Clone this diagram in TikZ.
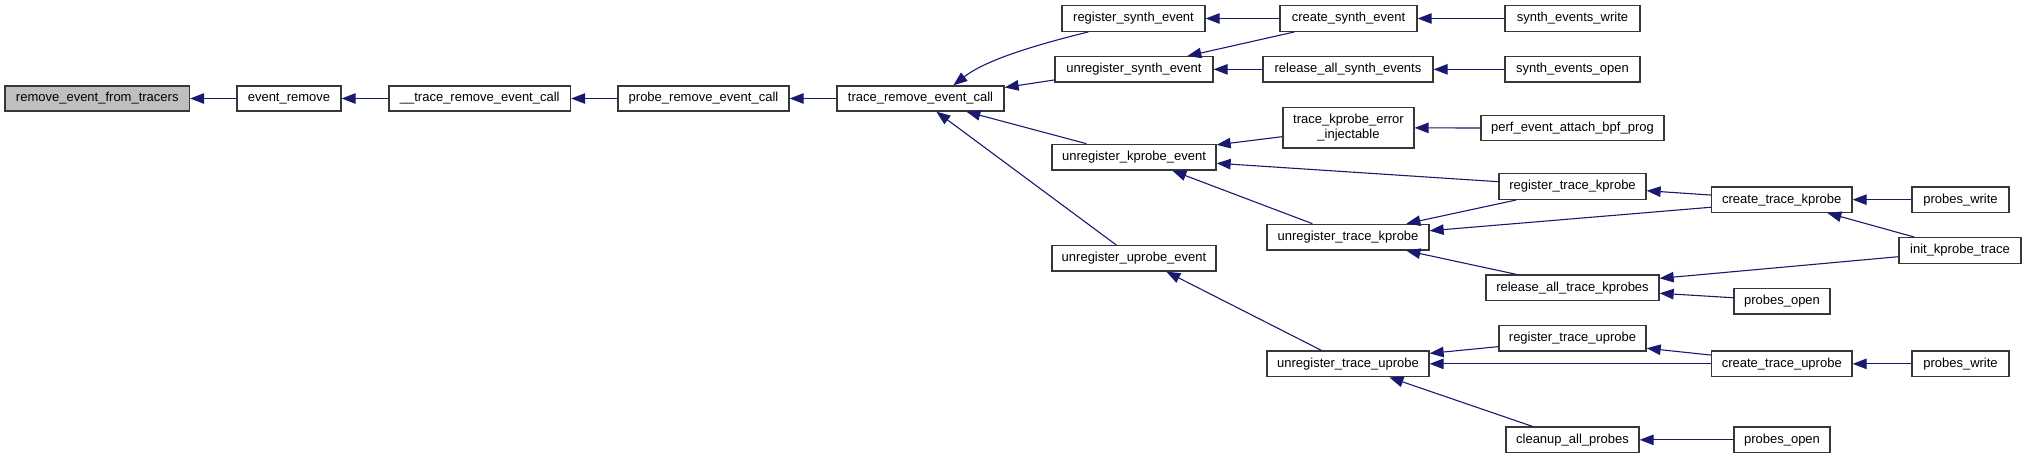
\documentclass[tikz,border=0pt]{standalone}
\usepackage{fontspec}
\setmainfont{Liberation Sans}
\usetikzlibrary{arrows.meta,calc}
\definecolor{edgeblue}{RGB}{25,25,112}
\definecolor{boxline}{RGB}{55,55,55}
\definecolor{grayfill}{RGB}{191,191,191}
\tikzset{
  box/.style={draw=boxline, line width=1.3pt, fill=white, inner sep=0pt, align=center,
    font=\fontsize{13pt}{15pt}\selectfont},
  edge/.style={draw=edgeblue, line width=1.1pt, -{Triangle[length=14pt,width=10.5pt]}}
}
\newcommand\bx[7][]{\node[box,#1, minimum width={(#4-#3)*1pt}, minimum height={(#6-#5)*1pt}]
  (#2) at ({(#3+#4)/2},{(#5+#6)/2}) {#7};}
\begin{document}
\begin{tikzpicture}[x=1pt,y=-1pt]
\useasboundingbox (0,0) rectangle (2027,459);
% rank 0-4
\bx[fill=grayfill]{rem}{5}{189.5}{86}{111}{remove\_event\_from\_tracers}
\bx{evr}{237}{341}{86}{111}{event\_remove}
\bx{trc}{389}{570.5}{86}{111}{\_\_trace\_remove\_event\_call}
\bx{prb}{618}{789}{86}{111}{probe\_remove\_event\_call}
\bx{tre}{837}{1004}{86}{111}{trace\_remove\_event\_call}
% rank 5
\bx{regsyn}{1062}{1205}{5.7}{31.3}{register\_synth\_event}
\bx{unregsyn}{1055}{1213}{56.7}{82}{unregister\_synth\_event}
\bx{unregkp}{1052}{1216}{144.3}{170}{unregister\_kprobe\_event}
\bx{unregup}{1052}{1216}{245.7}{271}{unregister\_uprobe\_event}
% rank 6
\bx{crsyn}{1280}{1417}{5.7}{31.3}{create\_synth\_event}
\bx{relsyn}{1263}{1433}{56.7}{82}{release\_all\_synth\_events}
\bx{tkei}{1283}{1414}{107.7}{148}{trace\_kprobe\_error\\\_injectable}
\bx{untk}{1267}{1429}{224.3}{250}{unregister\_trace\_kprobe}
\bx{untu}{1267}{1429}{351}{376.7}{unregister\_trace\_uprobe}
% rank 7
\bx{sew}{1505}{1640}{5.7}{31.3}{synth\_events\_write}
\bx{seo}{1505}{1640}{56.7}{82}{synth\_events\_open}
\bx{pea}{1481}{1664}{115.3}{140.7}{perf\_event\_attach\_bpf\_prog}
\bx{rtk}{1499}{1646}{173.7}{199.3}{register\_trace\_kprobe}
\bx{ratk}{1486}{1659}{275}{300.7}{release\_all\_trace\_kprobes}
\bx{rtu}{1499}{1646}{325.7}{351}{register\_trace\_uprobe}
\bx{cap}{1506}{1639}{427}{452.7}{cleanup\_all\_probes}
% rank 8
\bx{ctk}{1711.5}{1852}{187}{212.3}{create\_trace\_kprobe}
\bx{pok}{1734}{1830}{288.3}{314}{probes\_open}
\bx{ctu}{1711.5}{1852}{351}{376.7}{create\_trace\_uprobe}
\bx{pou}{1734}{1830}{427}{452.7}{probes\_open}
% rank 9
\bx{pwk}{1912}{2009}{187}{212.3}{probes\_write}
\bx{ikt}{1899}{2021}{237.7}{263.3}{init\_kprobe\_trace}
\bx{pwu}{1912}{2009}{351}{376.7}{probes\_write}
% edges: main chain
\draw[edge] (evr.west) -- (rem.east);
\draw[edge] (trc.west) -- (evr.east);
\draw[edge] (prb.west) -- (trc.east);
\draw[edge] (tre.west) -- (prb.east);
% into trace_remove_event_call
\draw[edge] ($(regsyn.south west)+(27,0)$) .. controls ($(regsyn.south west)+(-22,12)$) and ($(tre.north west)+(150,-26)$) .. ($(tre.north west)+(117,0)$);
\draw[edge] ($(unregsyn.west)+(0,10.6)$) -- ($(tre.east)+(0,-11)$);
\draw[edge] ($(unregkp.north west)+(35,0)$) -- ($(tre.south west)+(130,0)$);
\draw[edge] ($(unregup.north west)+(65,0)$) -- ($(tre.south west)+(100,0)$);
% synth
\draw[edge] (crsyn.west) -- (regsyn.east);
\draw[edge] ($(crsyn.south west)+(15,0)$) -- ($(unregsyn.north west)+(133,0)$);
\draw[edge] (relsyn.west) -- (unregsyn.east);
\draw[edge] (sew.west) -- (crsyn.east);
\draw[edge] (seo.west) -- (relsyn.east);
% kprobe
\draw[edge] ($(tkei.west)+(0,8.8)$) -- ($(unregkp.north east)+(0,1.2)$);
\draw[edge] ($(rtk.west)+(0,-4.8)$) -- ($(unregkp.east)+(0,6.1)$);
\draw[edge] ($(untk.north west)+(46,0)$) -- ($(unregkp.south west)+(121,0)$);
\draw[edge] (pea.west) -- (tkei.east);
\draw[edge] ($(rtk.south west)+(18,0)$) -- ($(untk.north west)+(140,0)$);
\draw[edge] ($(ctk.west)+(0,7.6)$) -- ($(untk.east)+(0,-6.4)$);
\draw[edge] ($(ratk.north west)+(31,0)$) -- ($(untk.south west)+(140,0)$);
\draw[edge] ($(ctk.west)+(0,-4.6)$) -- ($(rtk.east)+(0,4.2)$);
\draw[edge] ($(ikt.west)+(0,6.2)$) -- ($(ratk.east)+(0,-9.5)$);
\draw[edge] ($(pok.west)+(0,-3.4)$) -- ($(ratk.east)+(0,5.4)$);
\draw[edge] (pwk.west) -- (ctk.east);
\draw[edge] ($(ikt.north west)+(16,0)$) -- ($(ctk.south west)+(116.5,0)$);
% uprobe
\draw[edge] ($(untu.north west)+(55,0)$) -- ($(unregup.south west)+(115,0)$);
\draw[edge] ($(rtu.west)+(0,8.3)$) -- ($(untu.east)+(0,-10.5)$);
\draw[edge] (ctu.west) -- (untu.east);
\draw[edge] ($(cap.north west)+(27,0)$) -- ($(untu.south west)+(123,0)$);
\draw[edge] ($(ctu.west)+(0,-8.8)$) -- ($(rtu.east)+(0,9.9)$);
\draw[edge] (pwu.west) -- (ctu.east);
\draw[edge] (pou.west) -- (cap.east);
\end{tikzpicture}
\end{document}
